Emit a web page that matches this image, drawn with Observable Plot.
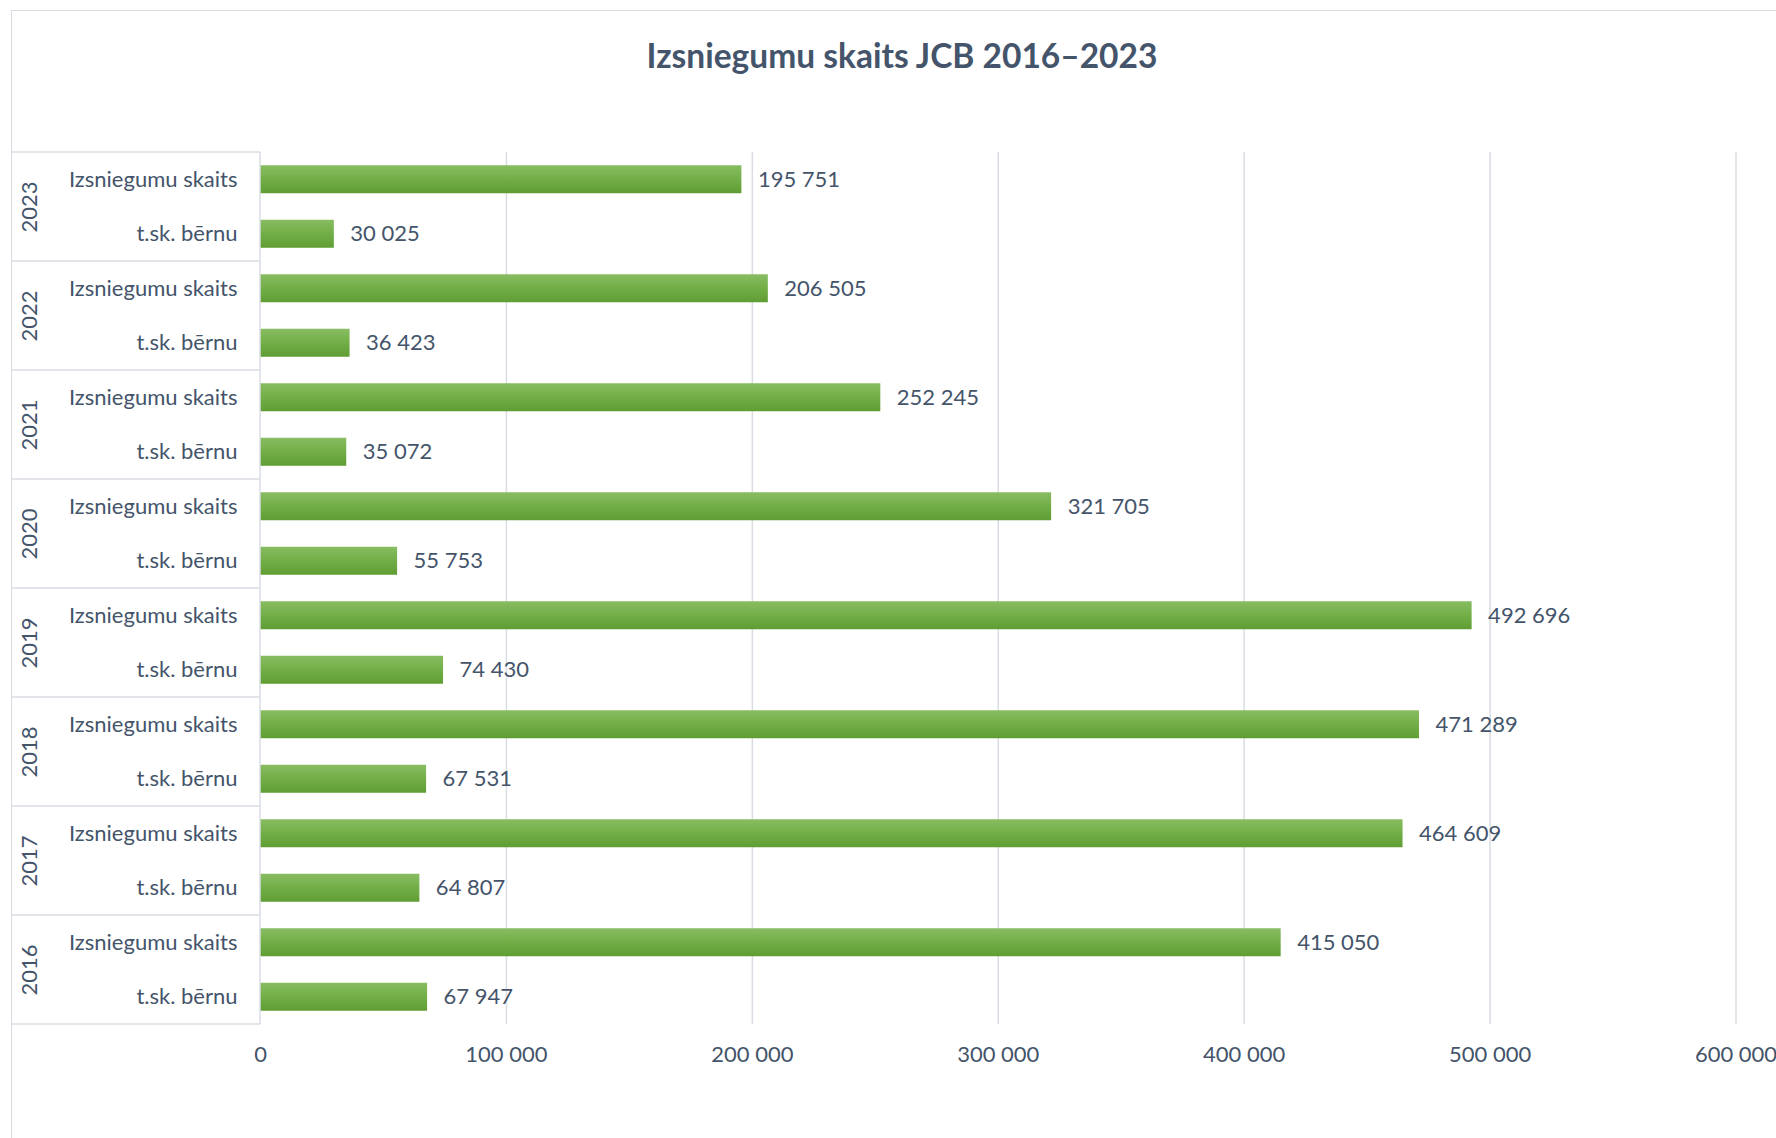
<!DOCTYPE html>
<html>
<head>
<meta charset="utf-8">
<script src="https://cdn.jsdelivr.net/npm/d3@7"></script>
<script src="https://cdn.jsdelivr.net/npm/@observablehq/plot@0.6"></script>
<style>
  html, body { margin: 0; padding: 0; background: #ffffff; }
  #wrap { position: relative; width: 1776px; height: 1138px; overflow: hidden; font-family: Lato, "Open Sans", sans-serif; }
  #border { position: absolute; left: 11px; top: 10px; width: 1900px; height: 1300px;
            border-left: 1.5px solid #d9dde3; border-top: 1.5px solid #d9dde3; pointer-events: none; }
  #title { position: relative; width: 1804px; height: 100px; box-sizing: border-box; padding-top: 35px;
           text-align: center; font-weight: 700; font-size: 33.5px; line-height: 40px; color: #44546a; }
  #chart svg { display: block; }
</style>
</head>
<body>
<div id="wrap">
  <div id="border"></div>
  <div id="title">Izsniegumu skaits JCB 2016–2023</div>
  <div id="chart"></div>
</div>
<script>
// ---- data ----
const years = ["2023", "2022", "2021", "2020", "2019", "2018", "2017", "2016"];
const categories = ["Izsniegumu skaits", "t.sk. bērnu"];
const totalValues = [195751, 206505, 252245, 321705, 492696, 471289, 464609, 415050];
const childValues = [30025, 36423, 35072, 55753, 74430, 67531, 64807, 67947];
const xTicks = [0, 100000, 200000, 300000, 400000, 500000, 600000];

// ---- table built from arrays ----
const rows = [];
years.forEach((yr, i) => {
  rows.push({year: yr, category: categories[0], key: yr + "|" + categories[0], value: totalValues[i]});
  rows.push({year: yr, category: categories[1], key: yr + "|" + categories[1], value: childValues[i]});
});
const keys = rows.map(d => d.key);
const groups = years.map(yr => ({year: yr, first: yr + "|" + categories[0], last: yr + "|" + categories[1]}));

const fmt = v => d3.format(",")(v).replace(/,/g, "\u00a0");
const textColor = "#44546a";
const lineColor = "#d9dde3";

const W = 1776, H = 1038;
const mTop = 52, mBottom = 114, mLeft = 260, mRight = 40.5;
const step = (H - mTop - mBottom) / keys.length;
const barH = 28;
const inset = (step - barH) / 2;

const gradientDefs = () => {
  const g = d3.create("svg:defs");
  const lg = g.append("linearGradient").attr("id", "barGrad")
    .attr("x1", 0).attr("y1", 0).attr("x2", 0).attr("y2", 1);
  lg.append("stop").attr("offset", "0%").attr("stop-color", "#88bd62");
  lg.append("stop").attr("offset", "50%").attr("stop-color", "#72ae47");
  lg.append("stop").attr("offset", "100%").attr("stop-color", "#5f9d33");
  return g.node();
};

const plot = Plot.plot({
  width: W,
  height: H,
  marginTop: mTop,
  marginBottom: mBottom,
  marginLeft: mLeft,
  marginRight: mRight,
  style: {fontFamily: "Lato, 'Open Sans', sans-serif", fontSize: "22px", color: textColor, background: "transparent", overflow: "visible"},
  x: {domain: [0, 600000], label: null},
  y: {domain: keys, padding: 0, round: false, label: null},
  marks: [
    gradientDefs,
    Plot.gridX(xTicks.filter(d => d > 0), {stroke: lineColor, strokeOpacity: 1, strokeWidth: 1.5}),
    Plot.barX(rows, {x: "value", y: "key", fill: "url(#barGrad)", insetTop: inset, insetBottom: inset}),
    Plot.text(rows, {x: "value", y: "key", text: d => fmt(d.value), textAnchor: "start", dx: 16, fill: textColor}),
    Plot.axisX(xTicks, {anchor: "bottom", tickSize: 0, tickPadding: 22, tickFormat: fmt, label: null, fill: textColor}),
    Plot.axisY({anchor: "left", tickSize: 0, tickPadding: 23, tickFormat: k => k.split("|")[1], label: null, fill: textColor}),
    Plot.text(groups, {y: "first", text: "year", frameAnchor: "left", textAnchor: "middle", dx: -(mLeft - 29), dy: step / 2, rotate: -90, fill: textColor})
  ]
});

// category box lines (decoration), positioned from Plot's y scale
const ys = plot.scale("y");
const svg = d3.select(plot);
const box = svg.append("g").attr("stroke", lineColor).attr("stroke-width", 1.5);
const yTop = ys.apply(keys[0]);
const yBot = ys.apply(keys[keys.length - 1]) + ys.step;
groups.forEach(g => {
  const y = ys.apply(g.first);
  box.append("line").attr("x1", 12 - 1).attr("x2", mLeft).attr("y1", y).attr("y2", y);
});
box.append("line").attr("x1", 12 - 1).attr("x2", mLeft).attr("y1", yBot).attr("y2", yBot);
box.append("line").attr("x1", mLeft).attr("x2", mLeft).attr("y1", yTop).attr("y2", yBot);

document.getElementById("chart").appendChild(plot);
</script>
</body>
</html>
